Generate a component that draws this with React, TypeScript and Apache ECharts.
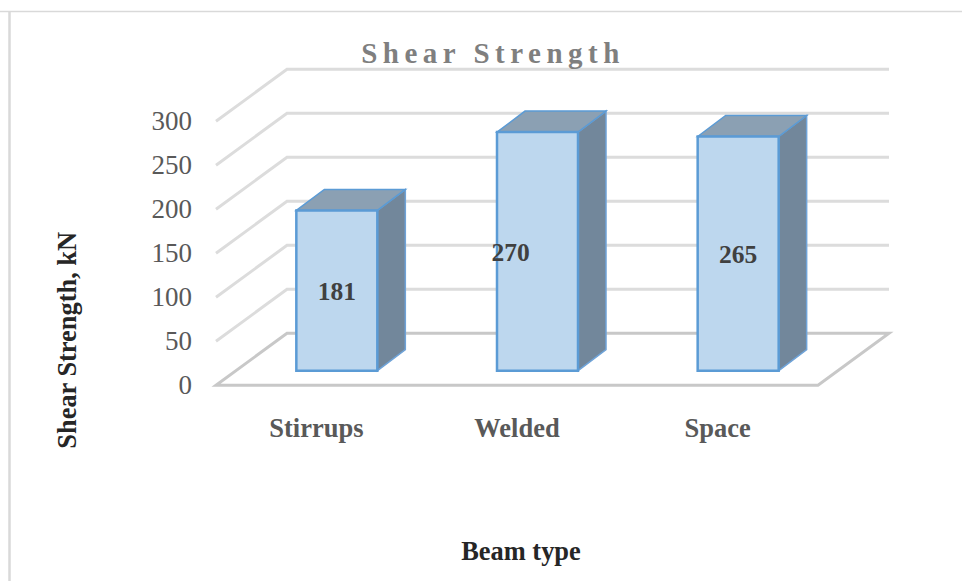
import React, { useEffect, useRef } from "react";
import * as echarts from "echarts";

const titleText = "Shear Strength";
const xAxisTitle = "Beam type";
const yAxisTitle = "Shear Strength, kN";
const categories = ["Stirrups", "Welded", "Space"];
const values = [181, 270, 265];
const yTicks = [0, 50, 100, 150, 200, 250, 300];

const FONT = '"Liberation Serif", "Times New Roman", serif';
const WALL_DX = 71;
const WALL_DY = 52;
const BAR_DX = 28;
const BAR_DY = 21;
const BAR_SHIFT_X = 20.5;
const BAR_SHIFT_Y = 14.6;
const BAR_W = 81;
const GRID_COLOR = "#dcdcdc";
const FLOOR_COLOR = "#c8c8c8";
const BLUE = "#5b9bd5";

function renderWall(params: any, api: any) {
  const cs = params.coordSys;
  const v = api.value(1);
  const y = api.coord([0, v])[1];
  const x0 = cs.x;
  const x1 = cs.x + cs.width;
  if (v === 0) {
    return {
      type: "polygon",
      shape: {
        points: [
          [x0, y],
          [x0 + WALL_DX, y - WALL_DY],
          [x1 + WALL_DX, y - WALL_DY],
          [x1, y],
        ],
      },
      style: { fill: "none", stroke: FLOOR_COLOR, lineWidth: 3, lineJoin: "miter" },
    };
  }
  return {
    type: "polyline",
    shape: {
      points: [
        [x0, y],
        [x0 + WALL_DX, y - WALL_DY],
        [x1 + WALL_DX, y - WALL_DY],
      ],
    },
    style: { fill: "none", stroke: GRID_COLOR, lineWidth: 3 },
  };
}

function renderBar(params: any, api: any) {
  const idx = api.value(0);
  const v = api.value(1);
  const c0 = api.coord([idx, 0]);
  const c1 = api.coord([idx, v]);
  const l = c0[0] + BAR_SHIFT_X - BAR_W / 2;
  const r = l + BAR_W;
  const b = c0[1] - BAR_SHIFT_Y;
  const t = c1[1] - BAR_SHIFT_Y - 1;
  const cx = (l + r) / 2 + (idx === 1 ? -27 : 0);
  return {
    type: "group",
    children: [
      {
        type: "polygon",
        shape: { points: [[r, t], [r + BAR_DX, t - BAR_DY], [r + BAR_DX, b - BAR_DY], [r, b]] },
        style: { fill: "#72879b", stroke: "#6fa3d8", lineWidth: 1.5 },
      },
      {
        type: "polygon",
        shape: { points: [[l, t], [l + BAR_DX, t - BAR_DY], [r + BAR_DX, t - BAR_DY], [r, t]] },
        style: { fill: "#8ba0b3", stroke: BLUE, lineWidth: 1.5 },
      },
      {
        type: "rect",
        shape: { x: l, y: t, width: BAR_W, height: b - t },
        style: { fill: "#bdd7ee", stroke: BLUE, lineWidth: 2.5 },
      },
      {
        type: "text",
        x: cx,
        y: (t + b) / 2 + 1,
        style: {
          text: String(v),
          fill: "#404040",
          font: `bold 25.5px ${FONT}`,
          align: "center",
          verticalAlign: "middle",
        },
      },
    ],
  };
}

export default function App() {
  const ref = useRef<HTMLDivElement>(null);
  useEffect(() => {
    const chart = echarts.init(ref.current!, null, { renderer: "svg", width: 962, height: 581 });
    chart.setOption({
      animation: false,
      backgroundColor: "#ffffff",
      title: {
        text: titleText,
        left: 488,
        top: 33,
        textAlign: "center",
        textStyle: { fontFamily: FONT, fontSize: 29, fontWeight: "bold", color: "#7f7f7f" },
      },
      grid: { left: 216, right: 144, top: 121.3, bottom: 195.7 },
      xAxis: {
        type: "category",
        data: categories,
        name: xAxisTitle,
        nameLocation: "middle",
        nameGap: 153,
        nameTextStyle: {
          fontFamily: FONT,
          fontSize: 26.4,
          fontWeight: "bold",
          color: "#262626",
          padding: [0, 0, 0, 8],
        },
        axisLine: { show: false },
        axisTick: { show: false },
        axisLabel: {
          margin: 29,
          fontFamily: FONT,
          fontSize: 26.5,
          fontWeight: "bold",
          color: "#595959",
        },
      },
      yAxis: {
        type: "value",
        min: 0,
        max: 300,
        interval: 50,
        name: yAxisTitle,
        nameLocation: "middle",
        nameGap: 136,
        nameTextStyle: {
          fontFamily: FONT,
          fontSize: 26.4,
          fontWeight: "bold",
          color: "#262626",
          padding: [0, 174, 0, 0],
        },
        axisLine: { show: false },
        axisTick: { show: false },
        splitLine: { show: false },
        axisLabel: { margin: 24, fontFamily: FONT, fontSize: 27, color: "#595959" },
      },
      graphic: [
        { type: "line", shape: { x1: 0, y1: 11.5, x2: 962, y2: 11.5 }, style: { stroke: "#d9d9d9", lineWidth: 1.5 } },
        { type: "line", shape: { x1: 9.5, y1: 11, x2: 9.5, y2: 581 }, style: { stroke: "#d9d9d9", lineWidth: 2.5 } },
      ],
      series: [
        {
          type: "custom",
          name: "walls",
          renderItem: renderWall,
          data: yTicks.map((v) => [0, v]),
          encode: { x: 0, y: 1 },
          silent: true,
          z: 1,
        },
        {
          type: "custom",
          name: "Shear Strength",
          renderItem: renderBar,
          data: values.map((v, i) => [i, v]),
          encode: { x: 0, y: 1 },
          z: 2,
        },
      ],
    });
    ref.current!.querySelectorAll("text").forEach((el) => {
      if (el.textContent === titleText) el.setAttribute("letter-spacing", "5.5");
    });
    return () => chart.dispose();
  }, []);
  return <div ref={ref} style={{ position: "fixed", left: 0, top: 0, width: 962, height: 581 }} />;
}
